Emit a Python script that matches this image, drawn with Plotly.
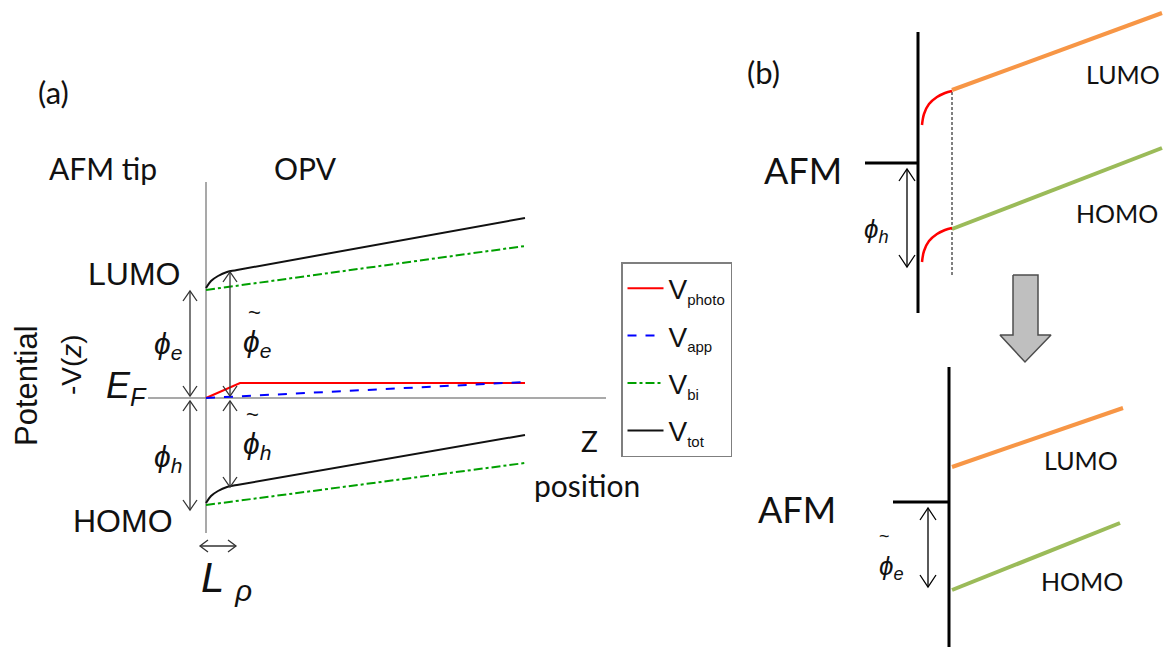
import plotly.graph_objects as go

W, H = 1167, 650

# ---------------- Panel (a) data (schematic coordinates) ----------------
tot_lumo_x = [206, 211, 218, 227, 237, 525]
tot_lumo_y = [288, 281, 276, 272, 270, 218]
tot_homo_x = [206, 211, 218, 227, 237, 525]
tot_homo_y = [503, 496, 491, 487, 485, 435]
bi_lumo_x = [206, 525]
bi_lumo_y = [290, 246]
bi_homo_x = [206, 525]
bi_homo_y = [505, 463]
photo_x = [206, 240, 525]
photo_y = [398, 383, 383]
app_x = [206, 525]
app_y = [398, 382]

axis_v_x = [206, 206]
axis_v_y = [182, 533]
fermi_x = [148, 606]
fermi_y = [398, 398]

legend_names = ["V<sub><span style='font-size:15px'>photo</span></sub>",
                "V<sub><span style='font-size:15px'>app</span></sub>",
                "V<sub><span style='font-size:15px'>bi</span></sub>",
                "V<sub><span style='font-size:15px'>tot</span></sub>"]

# double arrows: x0, y0, x1, y1, head length, head half-width
arrows_a = [
    (190, 291, 190, 396, 10, 7),
    (190, 401, 190, 510, 10, 7),
    (230, 272, 230, 396, 10, 7),
    (230, 401, 230, 487, 10, 7),
    (200, 546, 236, 546, 8, 6),
]

# ---------------- Panel (b) data ----------------
b_top_wall_x = [918, 918]
b_top_wall_y = [32, 313]
b_top_afm_x = [865, 918]
b_top_afm_y = [163, 163]
b_top_lumo_x = [952, 1162]
b_top_lumo_y = [90, 13]
b_top_homo_x = [952, 1162]
b_top_homo_y = [229, 148]
b_top_arc1_x = [922, 924, 929, 937, 945, 952]
b_top_arc1_y = [125, 114, 104, 97, 93, 91]
b_top_arc2_x = [922, 924, 929, 937, 945, 952]
b_top_arc2_y = [262, 251, 241, 234, 230, 228]
b_top_dash_x = [952, 952]
b_top_dash_y = [92, 277]

b_bot_wall_x = [949, 949]
b_bot_wall_y = [367, 647]
b_bot_afm_x = [893, 949]
b_bot_afm_y = [502, 502]
b_bot_lumo_x = [952, 1123]
b_bot_lumo_y = [467, 408]
b_bot_homo_x = [952, 1120]
b_bot_homo_y = [590, 523]

block_arrow_x = [1013, 1038, 1038, 1051, 1025, 1000, 1013, 1013]
block_arrow_y = [275, 275, 335, 335, 362, 335, 335, 275]

arrows_b = [
    (907, 169, 907, 267, 12, 8),
    (928, 508, 928, 587, 12, 8),
]

ORANGE = "#f79646"
GREEN_B = "#9bbb59"


def join(*pairs):
    xs, ys = [], []
    for px, py in pairs:
        if xs:
            xs.append(None)
            ys.append(None)
        xs += list(px)
        ys += list(py)
    return xs, ys


def arrow_segments(arrs):
    xs, ys = [], []
    for x0, y0, x1, y1, L, hw in arrs:
        dx, dy = x1 - x0, y1 - y0
        n = (dx * dx + dy * dy) ** 0.5
        ux, uy = dx / n, dy / n
        px, py = -uy, ux
        xs += [x0, x1, None]
        ys += [y0, y1, None]
        for (tx, ty, sx, sy) in [(x1, y1, -ux, -uy), (x0, y0, ux, uy)]:
            bx, by = tx + sx * L, ty + sy * L
            xs += [bx + px * hw, tx, bx - px * hw, None]
            ys += [by + py * hw, ty, by - py * hw, None]
    return xs, ys


fig = go.Figure()

def line(x, y, color, width, dash="solid", name=None, show=False, shape="linear", group=None):
    fig.add_trace(go.Scatter(x=x, y=y, mode="lines", name=name, showlegend=show,
                             legendgroup=group,
                             line=dict(color=color, width=width, dash=dash, shape=shape),
                             hoverinfo="skip"))

# axes of panel (a)
line(axis_v_x, axis_v_y, "#8c8c8c", 1.5)
line(fermi_x, fermi_y, "#8c8c8c", 1.5)

# series of panel (a)
line(photo_x, photo_y, "#ff0000", 2, name=legend_names[0], show=True, group="g1")
line(app_x, app_y, "#0000ff", 2, dash="dash", name=legend_names[1], show=True, group="g2")
bx, by = join((bi_lumo_x, bi_lumo_y), (bi_homo_x, bi_homo_y))
line(bx, by, "#00a000", 2, dash="dashdot", name=legend_names[2], show=True, group="g3")
tx, ty = join((tot_lumo_x, tot_lumo_y), (tot_homo_x, tot_homo_y))
line(tx, ty, "#111111", 2, name=legend_names[3], show=True, group="g4", shape="spline")

ax_, ay_ = arrow_segments(arrows_a)
line(ax_, ay_, "#333333", 1.3)

# panel (b)
line(b_top_wall_x, b_top_wall_y, "#000000", 3)
line(b_top_afm_x, b_top_afm_y, "#000000", 3)
line(b_top_dash_x, b_top_dash_y, "#000000", 1, dash="3px,2px")
line(b_top_lumo_x, b_top_lumo_y, ORANGE, 4)
line(b_top_homo_x, b_top_homo_y, GREEN_B, 4)
line(b_top_arc1_x, b_top_arc1_y, "#ff0000", 2.5, shape="spline")
line(b_top_arc2_x, b_top_arc2_y, "#ff0000", 2.5, shape="spline")

line(b_bot_wall_x, b_bot_wall_y, "#000000", 3)
line(b_bot_afm_x, b_bot_afm_y, "#000000", 3)
line(b_bot_lumo_x, b_bot_lumo_y, ORANGE, 4)
line(b_bot_homo_x, b_bot_homo_y, GREEN_B, 4)

bx2, by2 = arrow_segments(arrows_b)
line(bx2, by2, "#000000", 1.3)

fig.add_trace(go.Scatter(x=block_arrow_x, y=block_arrow_y, mode="lines", fill="toself",
                         fillcolor="#bfbfbf", line=dict(color="#4d4d4d", width=1.5),
                         showlegend=False, hoverinfo="skip"))

ARIAL = "Liberation Sans"
CAL = "Lato"
texts = [
    # x, y, text, size, family, angle
    (53, 92, "(a)", 31, CAL, 0),
    (103, 168, "AFM tip", 30, CAL, 0),
    (305, 168, "OPV", 30, CAL, 0),
    (134, 274, "LUMO", 32, ARIAL, 0),
    (123, 521, "HOMO", 32, ARIAL, 0),
    (26, 386, "Potential", 31, ARIAL, -90),
    (71, 365, "-V(<i>z</i>)", 28, ARIAL, -90),
    (126, 388, "<i>E<sub>F</sub></i>", 36, ARIAL, 0),
    (168, 345, "<i>ϕ<sub>e</sub></i>", 30, ARIAL, 0),
    (168, 458, "<i>ϕ<sub>h</sub></i>", 30, ARIAL, 0),
    (257, 343, "<i>ϕ<sub>e</sub></i>", 30, ARIAL, 0),
    (254, 312, "~", 22, ARIAL, 0),
    (257, 445, "<i>ϕ<sub>h</sub></i>", 30, ARIAL, 0),
    (252, 414, "~", 22, ARIAL, 0),
    (589, 441, "Z", 28, CAL, 0),
    (587, 485, "position", 30, CAL, 0),
    (226, 580, "<i>L <sub>ρ</sub></i>", 42, ARIAL, 0),
    (763, 72, "(b)", 31, CAL, 0),
    (803, 170, "AFM", 36, CAL, 0),
    (1123, 74, "LUMO", 25, CAL, 0),
    (1117, 213, "HOMO", 25, CAL, 0),
    (876, 230, "<i>ϕ<sub>h</sub></i>", 26, ARIAL, 0),
    (797, 509, "AFM", 36, CAL, 0),
    (1081, 460, "LUMO", 25, CAL, 0),
    (1082, 581, "HOMO", 25, CAL, 0),
    (891, 567, "<i>ϕ<sub>e</sub></i>", 26, ARIAL, 0),
    (884, 536, "~", 18, ARIAL, 0),
]
for x, y, t, s, fam, ang in texts:
    fig.add_annotation(x=x, y=y, text=t, showarrow=False, xanchor="center", yanchor="middle",
                       textangle=ang, font=dict(size=s, family=fam, color="#111111"))

fig.update_layout(
    width=W, height=H, margin=dict(l=0, r=0, t=0, b=0),
    plot_bgcolor="white", paper_bgcolor="white",
    xaxis=dict(range=[0, W], visible=False, fixedrange=True),
    yaxis=dict(range=[H, 0], visible=False, fixedrange=True),
    legend=dict(x=621 / W, y=1 - 262 / H,
                xanchor="left", yanchor="top",
                bordercolor="#7f7f7f", borderwidth=1.5, bgcolor="white",
                font=dict(family=ARIAL, size=28, color="#111111"),
                tracegroupgap=8, itemwidth=36),
    showlegend=True,
)

# place the figure flush with the page corner (no default body margin, no scrollbars)
fig.write_html("out.html", config={"displayModeBar": False},
               post_script="document.body.style.margin='0';document.body.style.overflow='hidden';")
